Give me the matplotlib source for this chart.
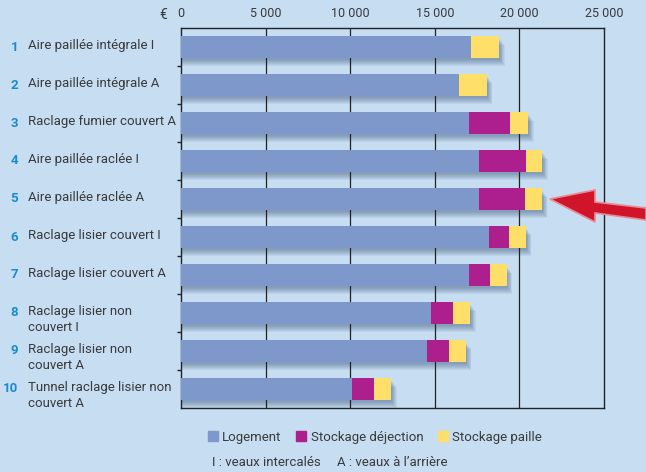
import matplotlib
matplotlib.use("Agg")
import matplotlib.pyplot as plt
from matplotlib.patches import Polygon, Patch
from matplotlib.transforms import blended_transform_factory
import numpy as np

plt.rcParams["font.family"] = ["Roboto", "DejaVu Sans"]

numbers = ["1", "2", "3", "4", "5", "6", "7", "8", "9", "10"]
labels = [
    "Aire paillée intégrale I",
    "Aire paillée intégrale A",
    "Raclage fumier couvert A",
    "Aire paillée raclée I",
    "Aire paillée raclée A",
    "Raclage lisier couvert I",
    "Raclage lisier couvert A",
    "Raclage lisier non\ncouvert I",
    "Raclage lisier non\ncouvert A",
    "Tunnel raclage lisier non\ncouvert A",
]
logement = [17120, 16430, 17000, 17610, 17590, 18200, 17040, 14760, 14520, 10090]
dejection = [0, 0, 2430, 2760, 2740, 1190, 1220, 1320, 1320, 1340]
paille = [1700, 1660, 1100, 990, 1010, 1000, 990, 1020, 1000, 1000]
xticks = [0, 5000, 10000, 15000, 20000, 25000]
xticklabels = ["0", "5 000", "10 000", "15 000", "20 000", "25 000"]

bg = "#c6ddf2"
c_log = "#7f98cb"
c_dej = "#ad1f8c"
c_pai = "#fedf6a"
txt = "#3a3a3a"
blue_num = "#1b8bd0"

fig = plt.figure(figsize=(6.46, 4.72), dpi=100, facecolor=bg)
ax = fig.add_axes([181 / 646, 1 - 408 / 472, 423 / 646, 380 / 472])
ax.set_facecolor(bg)

y = np.arange(len(labels))
log = np.array(logement)
dej = np.array(dejection)
pai = np.array(paille)
total = log + dej + pai
h = 0.56

# soft shadow
for k in range(1, 8):
    ax.barh(y + 0.025 * k + 0.04, total + 45 * k, height=h, left=0,
            color="#2e4670", alpha=0.07, linewidth=0, zorder=1)

ax.barh(y, log, height=h, color=c_log, zorder=3, linewidth=0)
ax.barh(y, dej, height=h, left=log, color=c_dej, zorder=3, linewidth=0)
ax.barh(y, pai, height=h, left=log + dej, color=c_pai, zorder=3, linewidth=0)

ax.set_xlim(0, 25000)
ax.set_ylim(len(labels) - 0.5, -0.5)
ax.set_xticks(xticks)
ax.set_xticklabels(xticklabels, fontsize=9, color=txt)
ax.xaxis.tick_top()
ax.tick_params(axis="x", length=0, pad=6)
for xv in xticks[1:-1]:
    ax.axvline(xv, color="#222222", linewidth=0.9, zorder=2)
ax.set_yticks(np.arange(len(labels) - 1) + 0.5)
ax.set_yticklabels([])
ax.tick_params(axis="y", length=3, width=1, color="#222222")
for s in ax.spines.values():
    s.set_color("#222222")
    s.set_linewidth(1)

fig.text(163 / 646, 1 - 15 / 472, "€", fontsize=10, color=txt, va="center", ha="center")

tr = blended_transform_factory(fig.transFigure, ax.transData)
for i, (n, lab) in enumerate(zip(numbers, labels)):
    fig.text(18 / 646, i, n, transform=tr, ha="right", va="center",
             fontsize=9.5, fontweight="bold", color=blue_num)
    lines = lab.split("\n")
    for j, line in enumerate(lines):
        fig.text(28 / 646, i - 0.04 + j * 0.42, line, transform=tr, ha="left",
                 va="center", fontsize=9.5, color=txt)

handles = [Patch(color=c_log), Patch(color=c_dej), Patch(color=c_pai)]
fig.legend(handles, ["Logement", "Stockage déjection", "Stockage paille"],
           loc="center", bbox_to_anchor=(375 / 646, 1 - 437 / 472), ncol=3,
           frameon=False, fontsize=9.5, handlelength=0.75, handleheight=0.75,
           handletextpad=0.35, columnspacing=1.1, labelcolor=txt)
fig.text(212 / 646, 1 - 462 / 472, "I : veaux intercalés     A : veaux à l\u2019arrière",
         fontsize=9.5, color=txt, va="center", ha="left")

# red arrow pointing at bar 5
pts = [(550, 199), (595, 190), (595, 202), (646, 208), (646, 220),
       (595, 213), (595, 222)]
arrow = Polygon([(px / 646, 1 - py / 472) for px, py in pts], closed=True,
                transform=fig.transFigure, facecolor="#d0152a",
                edgecolor="#e88a95", linewidth=1.2, zorder=10)
fig.patches.append(arrow)

fig.savefig("out.png", dpi=100, facecolor=bg)
